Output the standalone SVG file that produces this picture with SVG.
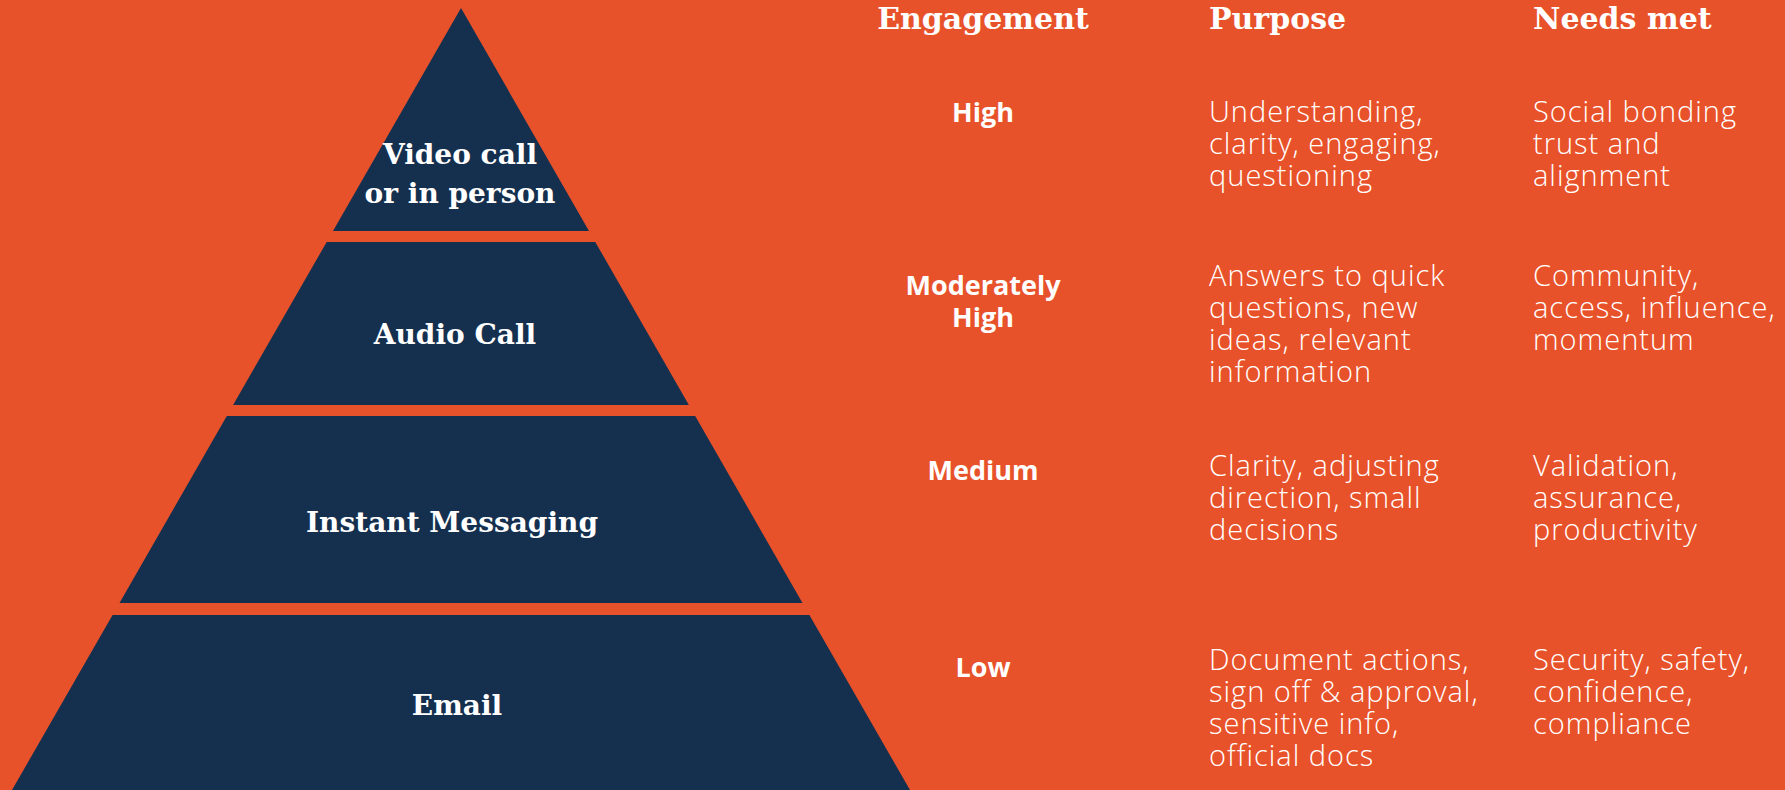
<svg xmlns="http://www.w3.org/2000/svg" width="1785" height="790" viewBox="0 0 1785 790">
  <style>
    .tier { fill: #15304F; }
    .tlabel { font-family: "DejaVu Serif", "Liberation Serif", serif; font-weight: bold; font-size: 28px; fill: #FFFFFF; text-anchor: middle; }
    .head { font-family: "DejaVu Serif", "Liberation Serif", serif; font-weight: bold; font-size: 30px; fill: #FFFFFF; }
    .eng { font-family: "Open Sans", "Liberation Sans", sans-serif; font-weight: 700; font-size: 27px; fill: #FFFFFF; text-anchor: middle; }
    .body { font-family: "Open Sans", "Liberation Sans", sans-serif; font-weight: 300; font-size: 29px; letter-spacing: 1px; fill: #FFFFFF; }
  </style>
  <rect x="0" y="0" width="1785" height="790" fill="#E8522A"/>

  <g id="tier-video">
    <polygon class="tier" points="461,8 589,231 333,231"/>
    <text class="tlabel" x="460" y="164">Video call<tspan x="460" y="203">or in person</tspan></text>
  </g>
  <g id="tier-audio">
    <polygon class="tier" points="326.7,242 595.3,242 688.9,405 233.1,405"/>
    <text class="tlabel" x="455" y="344">Audio Call</text>
  </g>
  <g id="tier-im">
    <polygon class="tier" points="226.8,416 695.2,416 802.5,603 119.5,603"/>
    <text class="tlabel" x="452" y="532">Instant Messaging</text>
  </g>
  <g id="tier-email">
    <polygon class="tier" points="112.6,615 809.4,615 910,790 12,790"/>
    <text class="tlabel" x="457" y="715">Email</text>
  </g>

  <g id="connectors"></g>

  <g id="headers">
    <text class="head" x="983" y="29" text-anchor="middle">Engagement</text>
    <text class="head" x="1209" y="29">Purpose</text>
    <text class="head" x="1533" y="29">Needs met</text>
  </g>

  <g id="row-high">
    <text class="eng" x="983" y="122">High</text>
    <text class="body" x="1209" y="122">Understanding,<tspan x="1209" y="154">clarity, engaging,</tspan><tspan x="1209" y="186">questioning</tspan></text>
    <text class="body" x="1533" y="122">Social bonding<tspan x="1533" y="154">trust and</tspan><tspan x="1533" y="186">alignment</tspan></text>
  </g>
  <g id="row-modhigh">
    <text class="eng" x="983" y="295">Moderately<tspan x="983" y="327">High</tspan></text>
    <text class="body" x="1209" y="286">Answers to quick<tspan x="1209" y="318">questions, new</tspan><tspan x="1209" y="350">ideas, relevant</tspan><tspan x="1209" y="382">information</tspan></text>
    <text class="body" x="1533" y="286">Community,<tspan x="1533" y="318">access, influence,</tspan><tspan x="1533" y="350">momentum</tspan></text>
  </g>
  <g id="row-medium">
    <text class="eng" x="983" y="480">Medium</text>
    <text class="body" x="1209" y="476">Clarity, adjusting<tspan x="1209" y="508">direction, small</tspan><tspan x="1209" y="540">decisions</tspan></text>
    <text class="body" x="1533" y="476">Validation,<tspan x="1533" y="508">assurance,</tspan><tspan x="1533" y="540">productivity</tspan></text>
  </g>
  <g id="row-low">
    <text class="eng" x="983" y="677">Low</text>
    <text class="body" x="1209" y="670">Document actions,<tspan x="1209" y="702">sign off &amp; approval,</tspan><tspan x="1209" y="734">sensitive info,</tspan><tspan x="1209" y="766">official docs</tspan></text>
    <text class="body" x="1533" y="670">Security, safety,<tspan x="1533" y="702">confidence,</tspan><tspan x="1533" y="734">compliance</tspan></text>
  </g>
</svg>
